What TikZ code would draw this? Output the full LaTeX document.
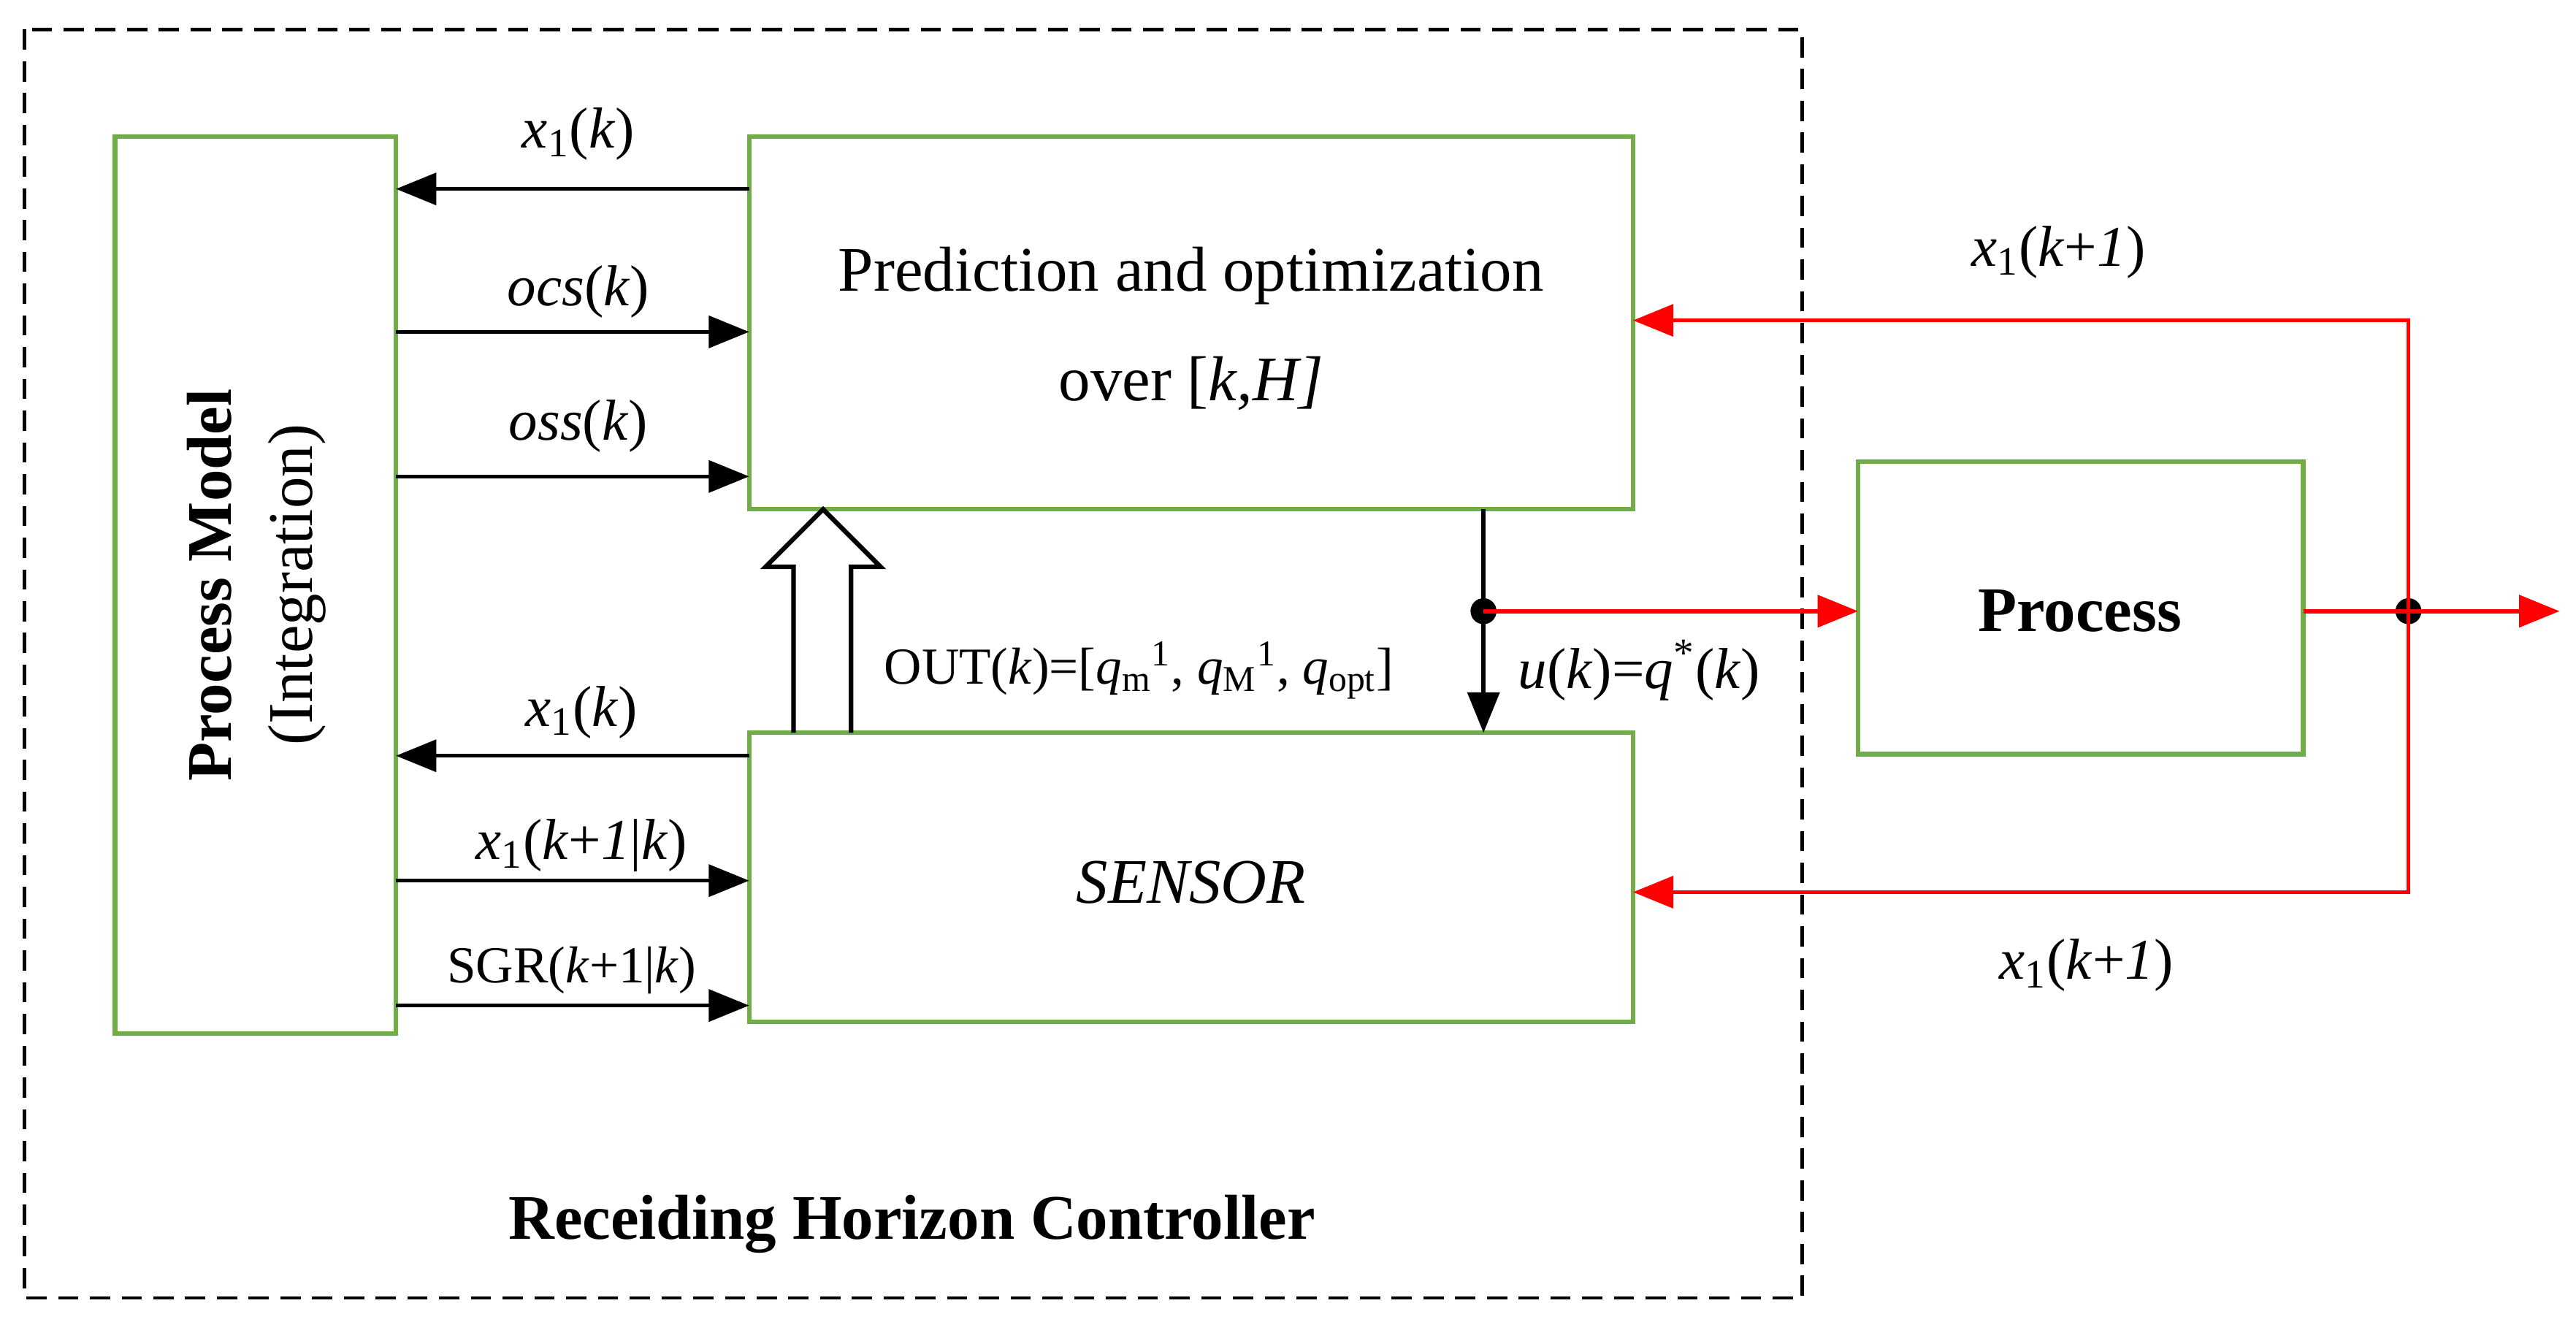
\documentclass[tikz,border=0pt]{standalone}
\usepackage{fontspec}
\setmainfont{Liberation Serif}
\usetikzlibrary{arrows.meta}
\newcommand{\kk}{\textit{k}}
\newcommand{\xo}{\textit{x}\textsubscript{1}}
\begin{document}
\begin{tikzpicture}[x=0.02cm,y=-0.02cm,
  box/.style={draw={rgb,255:red,112;green,173;blue,71}, line width=1.6pt, inner sep=0},
  lab/.style={font=\fontsize{20}{24}\selectfont, anchor=base},
  blk/.style={line width=1.4pt,-{Triangle[length=14pt,width=11pt]}},
  rd/.style={line width=1.4pt,red,-{Triangle[length=14pt,width=11pt]}},
  dot/.style={circle,fill,inner sep=0,minimum size=9pt}]
\useasboundingbox (0,0) rectangle (1568,811);
\draw[dash pattern=on 7pt off 4pt,line width=1.2pt] (15,18) rectangle (1097,790);
\coordinate (pm1) at (70,83); \coordinate (pm2) at (241,629);
\draw[box] (pm1) rectangle (pm2);
\draw[box] (456,83) rectangle (994,310);
\draw[box] (456,446) rectangle (994,622);
\draw[box] (1131,281) rectangle (1402,459);
\node[rotate=90,align=center,font=\fontsize{22}{28}\selectfont] (pmt) at (156,356) {\textbf{Process Model}\\(Integration)};
\node[align=center,font=\fontsize{22}{38}\selectfont] (pred) at (725,200) {Prediction and optimization\\over [\textit{k,H]}};
\node[font=\fontsize{22}{26}\selectfont\itshape] (sens) at (725,537) {SENSOR};
\node[font=\fontsize{22}{26}\selectfont\bfseries] (proc) at (1266,372) {Process};
\node[font=\fontsize{22}{26}\selectfont\bfseries] (rhc) at (555,745) {Receiding Horizon Controller};
% left arrows
\coordinate (a1s) at (456,115); \coordinate (a1e) at (241,115);
\draw[blk] (a1s) -- (a1e);
\coordinate (a2s) at (241,202); \coordinate (a2e) at (456,202);
\draw[blk] (a2s) -- (a2e);
\coordinate (a3s) at (241,290); \coordinate (a3e) at (456,290);
\draw[blk] (a3s) -- (a3e);
\coordinate (a4s) at (456,460); \coordinate (a4e) at (241,460);
\draw[blk] (a4s) -- (a4e);
\coordinate (a5s) at (241,536); \coordinate (a5e) at (456,536);
\draw[blk] (a5s) -- (a5e);
\coordinate (a6s) at (241,612); \coordinate (a6e) at (456,612);
\draw[blk] (a6s) -- (a6e);
\node[lab] (l1) at (352,90) {\xo(\kk)};
\node[lab] (l2) at (352,186) {\textit{ocs}(\kk)};
\node[lab] (l3) at (352,268) {\textit{oss}(\kk)};
\node[lab] (l4) at (354,442) {\xo(\kk)};
\node[lab] (l5) at (354,523) {\xo(\kk+\textit{1}|\kk)};
\node[lab,font=\fontsize{18}{22}\selectfont] (l6) at (348,598) {SGR(\kk+1|\kk)};
% hollow arrow
\draw[line width=1.6pt] (483,446) -- (483,345) -- (466,345) -- (501,310) -- (536,345) -- (518,345) -- (518,446);
\node[lab,anchor=west,font=\fontsize{18}{22}\selectfont] (out) at (532,408) {OUT(\kk)=[\textit{q}\textsubscript{m}\textsuperscript{1}, \textit{q}\textsubscript{M}\textsuperscript{1}, \textit{q}\textsubscript{opt}]};
% u(k)
\coordinate (us) at (903,310); \node[dot] (ud) at (903,372) {}; \coordinate (ue) at (903,446);
\draw[line width=1.4pt] (us) -- (ud.center);
\draw[blk] (ud.center) -- (ue);
\coordinate (pin) at (1131,372);
\draw[rd] (ud.center) -- (pin);
\node[lab,anchor=west] (ul) at (918,408) {\textit{u}(\kk)=\textit{q}\textsuperscript{*}(\kk)};
% process output
\node[dot] (pd) at (1466,372) {};
\coordinate (pout) at (1402,372); \coordinate (pend) at (1558,372);
\draw[line width=1.4pt,red] (pout) -- (pd.center);
\draw[rd] (pd.center) -- (pend);
\coordinate (c1) at (1466,195); \coordinate (c1e) at (994,195);
\draw[rd] (pd.center) -- (c1) -- (c1e);
\coordinate (c2) at (1466,543); \coordinate (c2e) at (994,543);
\draw[rd] (pd.center) -- (c2) -- (c2e);
\node[lab] (r1) at (1253,162) {\xo(\kk+\textit{1})};
\node[lab] (r2) at (1270,596) {\xo(\kk+\textit{1})};
\end{tikzpicture}
\end{document}
